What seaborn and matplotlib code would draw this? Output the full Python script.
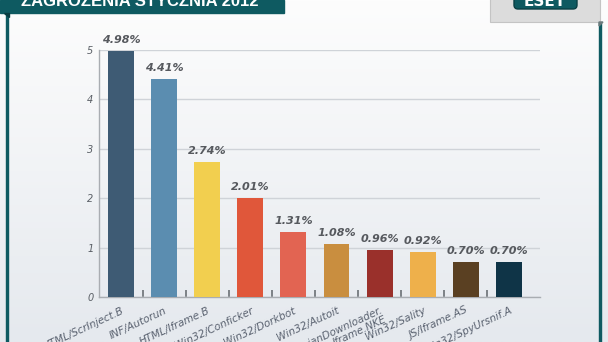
import numpy as np
import pandas as pd
import matplotlib
matplotlib.use("Agg")
import matplotlib.pyplot as plt
from matplotlib.patches import Rectangle, FancyBboxPatch, Polygon
import seaborn as sns

# Top threats, January 2012 (share of detections, %)
threats = ["HTML/ScrInject.B", "INF/Autorun", "HTML/Iframe.B", "Win32/Conficker",
           "Win32/Dorkbot", "Win32/Autoit", "TrojanDownloader.\nIframe.NKE",
           "Win32/Sality", "JS/Iframe.AS", "Win32/SpyUrsnif.A"]
shares = [4.98, 4.41, 2.74, 2.01, 1.31, 1.08, 0.96, 0.92, 0.70, 0.70]
value_labels = ["4.98%", "4.41%", "2.74%", "2.01%", "1.31%", "1.08%", "0.96%",
                "0.92%", "0.70%", "0.70%"]
bar_colors = ["#3e5b74", "#5b8db0", "#f2cf4f", "#e0573a", "#e26452", "#c98e3f",
              "#9a302b", "#eeb04b", "#5a4022", "#0f3447"]
y_ticks = [0, 1, 2, 3, 4, 5]
title = "ZAGROŻENIA STYCZNIA 2012"

W, H = 608, 342
fig = plt.figure(figsize=(W / 100, H / 100), dpi=100)

# Background panel with a soft vertical gradient
bg = fig.add_axes([0, 0, 1, 1])
bg.set_xlim(0, W)
bg.set_ylim(H, 0)
bg.axis("off")
grad = np.linspace(0, 1, 256).reshape(-1, 1)
cmap = matplotlib.colors.LinearSegmentedColormap.from_list("bgc", ["#fdfdfd", "#e5e9ee"])
bg.imshow(grad, extent=[0, W, H, 0], aspect="auto", cmap=cmap, zorder=0)

# Frame lines and header decorations
teal = "#0e5a61"
bg.add_patch(Rectangle((6, 12), 2.2, H - 12, color=teal, zorder=2))
bg.add_patch(Rectangle((599, 22), 2.2, H - 22, color=teal, zorder=2))
bg.add_patch(Rectangle((0, 0), 284, 12.5, color=teal, zorder=3))
bg.add_patch(Polygon([[4, 12.5], [9, 12.5], [9, 17]], closed=True, color="#083c41", zorder=3))
bg.text(140, 1.5, title, color="white", fontsize=12, fontweight="bold",
        ha="center", va="center", zorder=4, family=["Liberation Sans", "DejaVu Sans"])
bg.add_patch(Rectangle((490, -2), 110, 24, facecolor="#dcdcdc", edgecolor="#c4c4c4",
                       lw=0.8, zorder=3))
bg.add_patch(Polygon([[599, 22], [603, 22], [599, 26]], closed=True, color="#6a7a7c", zorder=3))
bg.add_patch(FancyBboxPatch((514, -6), 63, 15, boxstyle="round,pad=0,rounding_size=4",
                            facecolor=teal, edgecolor="#0a3f44", lw=1, zorder=4))
bg.text(545, 1.5, "ESET", color="white", fontsize=11, fontweight="bold",
        ha="center", va="center", zorder=5)

# Bar chart
ax = fig.add_axes([99 / W, 1 - 297 / H, 441 / W, 247 / H])
ax.patch.set_alpha(0)
df = pd.DataFrame({"threat": threats, "share": shares})
sns.barplot(data=df, x="threat", y="share", hue="threat", palette=bar_colors,
            width=0.6, saturation=1, legend=False, ax=ax, zorder=3)
ax.set_xlim(-0.51, 9.72)
ax.set_ylim(0, 5)
ax.set_xlabel("")
ax.set_ylabel("")

ax.set_yticks(y_ticks)
ax.set_yticklabels([str(t) for t in y_ticks], fontstyle="italic", fontsize=7,
                   color="#5a5f66")
ax.tick_params(axis="y", length=0, pad=4)
ax.grid(axis="y", color="#cfd3d8", lw=1, zorder=0)
ax.set_axisbelow(True)

ax.set_xticks(range(len(threats)))
ax.set_xticklabels(threats, rotation=25, ha="right", rotation_mode="anchor",
                   fontstyle="italic", fontsize=7.5, color="#5a6270", linespacing=0.95)
ax.tick_params(axis="x", length=0, pad=6)
ax.set_xticks(np.arange(0.5, len(threats) - 1, 1), minor=True)
ax.tick_params(axis="x", which="minor", direction="in", length=5, width=1.2,
               color="#6b7075")

for s in ["top", "right"]:
    ax.spines[s].set_visible(False)
for s in ["left", "bottom"]:
    ax.spines[s].set_color("#a9adb2")
    ax.spines[s].set_linewidth(1)

for i, (v, lab) in enumerate(zip(shares, value_labels)):
    ax.text(i, v + 0.12, lab, ha="center", va="bottom", fontsize=8,
            fontweight="bold", fontstyle="italic", color="#56595e", zorder=4)

fig.savefig("out.png", dpi=100)
